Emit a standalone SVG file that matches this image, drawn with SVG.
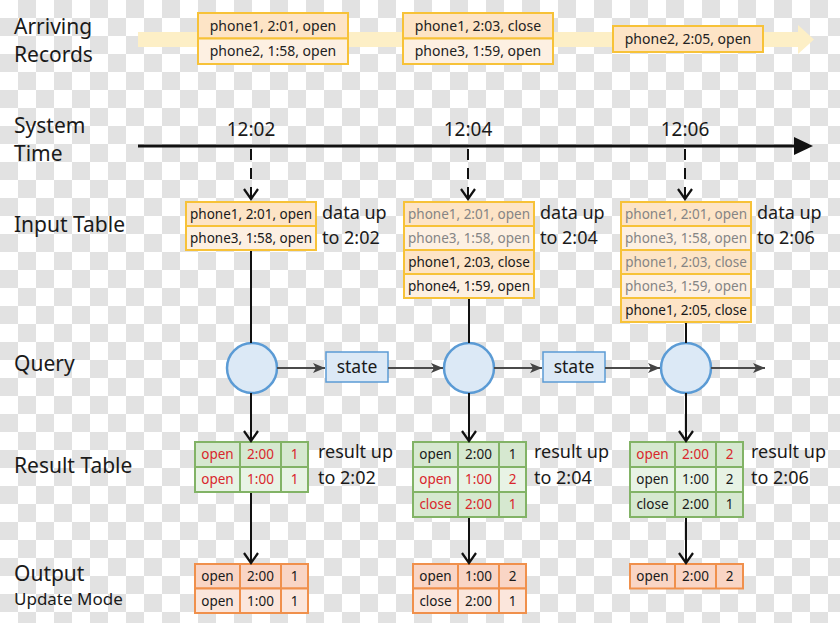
<svg xmlns="http://www.w3.org/2000/svg" width="840" height="623" viewBox="0 0 840 623">
<defs>
<marker id="va" markerUnits="userSpaceOnUse" markerWidth="16" markerHeight="18" refX="13" refY="9" orient="auto">
<path d="M3,2 L13,9 L3,16" fill="none" stroke="#111" stroke-width="2.2"/>
</marker>
<marker id="ga" markerUnits="userSpaceOnUse" markerWidth="14" markerHeight="12" refX="12" refY="6" orient="auto">
<path d="M0,1 L12,6 L0,11 L3,6 z" fill="#444"/>
</marker>
<style>
.ce{stroke:#e2e2e2;stroke-width:18;stroke-dasharray:18,18;stroke-dashoffset:18}
.co{stroke:#e2e2e2;stroke-width:18;stroke-dasharray:18,18;stroke-dashoffset:0}
.lbl{font-family:"Noto Sans","Open Sans",sans-serif;font-size:21px;fill:#1a1a1a}
.sub{font-family:"Noto Sans","Open Sans",sans-serif;font-size:17px;fill:#1a1a1a}
.note{font-family:"Noto Sans","Open Sans",sans-serif;font-size:18px;fill:#1a1a1a}
.time{font-family:"Noto Sans","Open Sans",sans-serif;font-size:19px;fill:#1a1a1a;text-anchor:middle}
.rec{font-family:"Noto Sans","Open Sans",sans-serif;font-size:14px;fill:#222;text-anchor:middle}
.cell{font-family:"Noto Sans","Open Sans",sans-serif;font-size:13.5px;fill:#1a1a1a;text-anchor:middle}
.old{fill:#858585}
.red{fill:#d9262c}
.y1{fill:#fde4c6;stroke:#f7c238;stroke-width:2}
.y2{fill:#fdf0e2;stroke:#f7c238;stroke-width:2}
.g1{fill:#d6e8d0;stroke:#82b366;stroke-width:2}
.g2{fill:#e8f3e5;stroke:#82b366;stroke-width:2}
.o1{fill:#f9d5c5;stroke:#f0904c;stroke-width:2}
.o2{fill:#fbe6dc;stroke:#f0904c;stroke-width:2}
.gl{fill:none;stroke:#82b366;stroke-width:2}
.ol{fill:none;stroke:#f0904c;stroke-width:2}
.circ{fill:#dce9f6;stroke:#5b9bd5;stroke-width:2.5}
.st{fill:#dce9f6;stroke:#5b9bd5;stroke-width:1.5}
.stt{font-family:"Noto Sans","Open Sans",sans-serif;font-size:17.5px;fill:#1a1a1a;text-anchor:middle}
.blk{stroke:#111;stroke-width:2;fill:none}
.dash{stroke:#111;stroke-width:2;fill:none;stroke-dasharray:11,8}
.gray{stroke:#4a4a4a;stroke-width:2;fill:none}
</style>
</defs>
<g id="background">
<rect x="0" y="0" width="840" height="623" fill="#ffffff"/>
<line class="ce" x1="0" y1="9" x2="840" y2="9"/>
<line class="co" x1="0" y1="27" x2="840" y2="27"/>
<line class="ce" x1="0" y1="45" x2="840" y2="45"/>
<line class="co" x1="0" y1="63" x2="840" y2="63"/>
<line class="ce" x1="0" y1="81" x2="840" y2="81"/>
<line class="co" x1="0" y1="99" x2="840" y2="99"/>
<line class="ce" x1="0" y1="117" x2="840" y2="117"/>
<line class="co" x1="0" y1="135" x2="840" y2="135"/>
<line class="ce" x1="0" y1="153" x2="840" y2="153"/>
<line class="co" x1="0" y1="171" x2="840" y2="171"/>
<line class="ce" x1="0" y1="189" x2="840" y2="189"/>
<line class="co" x1="0" y1="207" x2="840" y2="207"/>
<line class="ce" x1="0" y1="225" x2="840" y2="225"/>
<line class="co" x1="0" y1="243" x2="840" y2="243"/>
<line class="ce" x1="0" y1="261" x2="840" y2="261"/>
<line class="co" x1="0" y1="279" x2="840" y2="279"/>
<line class="ce" x1="0" y1="297" x2="840" y2="297"/>
<line class="co" x1="0" y1="315" x2="840" y2="315"/>
<line class="ce" x1="0" y1="333" x2="840" y2="333"/>
<line class="co" x1="0" y1="351" x2="840" y2="351"/>
<line class="ce" x1="0" y1="369" x2="840" y2="369"/>
<line class="co" x1="0" y1="387" x2="840" y2="387"/>
<line class="ce" x1="0" y1="405" x2="840" y2="405"/>
<line class="co" x1="0" y1="423" x2="840" y2="423"/>
<line class="ce" x1="0" y1="441" x2="840" y2="441"/>
<line class="co" x1="0" y1="459" x2="840" y2="459"/>
<line class="ce" x1="0" y1="477" x2="840" y2="477"/>
<line class="co" x1="0" y1="495" x2="840" y2="495"/>
<line class="ce" x1="0" y1="513" x2="840" y2="513"/>
<line class="co" x1="0" y1="531" x2="840" y2="531"/>
<line class="ce" x1="0" y1="549" x2="840" y2="549"/>
<line class="co" x1="0" y1="567" x2="840" y2="567"/>
<line class="ce" x1="0" y1="585" x2="840" y2="585"/>
<line class="co" x1="0" y1="603" x2="840" y2="603"/>
<line class="ce" x1="0" y1="621" x2="840" y2="621"/>
</g>

<g id="row-labels">
<text class="lbl" x="14" y="34">Arriving</text>
<text class="lbl" x="14" y="62">Records</text>
<text class="lbl" x="14" y="133">System</text>
<text class="lbl" x="14" y="161">Time</text>
<text class="lbl" x="14" y="232">Input Table</text>
<text class="lbl" x="14" y="371">Query</text>
<text class="lbl" x="14" y="473">Result Table</text>
<text class="lbl" x="14" y="581">Output</text>
<text class="sub" x="14" y="605">Update Mode</text>
</g>

<g id="arrival-band">
<rect x="138" y="32" width="662" height="15" fill="#fdefc6"/>
<polygon points="798,25 814,39.5 798,54" fill="#fdefc6"/>
</g>

<g id="arrivals-1">
<rect class="y1" x="198" y="13" width="150" height="25.5"/>
<rect class="y2" x="198" y="38.5" width="150" height="25.5"/>
<text class="rec" x="273" y="31">phone1, 2:01, open</text>
<text class="rec" x="273" y="56">phone2, 1:58, open</text>
</g>
<g id="arrivals-2">
<rect class="y1" x="403" y="13" width="150" height="25.5"/>
<rect class="y2" x="403" y="38.5" width="150" height="25.5"/>
<text class="rec" x="478" y="31">phone1, 2:03, close</text>
<text class="rec" x="478" y="56">phone3, 1:59, open</text>
</g>
<g id="arrivals-3">
<rect class="y1" x="613" y="26" width="150" height="26"/>
<text class="rec" x="688" y="44">phone2, 2:05, open</text>
</g>

<g id="timeline">
<line x1="138" y1="146" x2="796" y2="146" stroke="#111" stroke-width="3"/>
<polygon points="794,137 813,146 794,155" fill="#111"/>
<text class="time" x="251" y="136">12:02</text>
<text class="time" x="468" y="136">12:04</text>
<text class="time" x="685" y="136">12:06</text>
</g>

<g id="input-1">
<rect class="y1" x="186" y="202" width="130" height="24"/>
<rect class="y2" x="186" y="226" width="130" height="24"/>
<text class="cell" x="251" y="218.5">phone1, 2:01, open</text>
<text class="cell" x="251" y="242.5">phone3, 1:58, open</text>
<text class="note" x="322" y="219">data up</text>
<text class="note" x="322" y="244">to 2:02</text>
</g>
<g id="input-2">
<rect class="y1" x="404" y="202" width="130" height="24"/>
<rect class="y2" x="404" y="226" width="130" height="24"/>
<rect class="y1" x="404" y="250" width="130" height="24"/>
<rect class="y2" x="404" y="274" width="130" height="24"/>
<text class="cell old" x="469" y="218.5">phone1, 2:01, open</text>
<text class="cell old" x="469" y="242.5">phone3, 1:58, open</text>
<text class="cell" x="469" y="266.5">phone1, 2:03, close</text>
<text class="cell" x="469" y="290.5">phone4, 1:59, open</text>
<text class="note" x="540" y="219">data up</text>
<text class="note" x="540" y="244">to 2:04</text>
</g>
<g id="input-3">
<rect class="y1" x="621" y="202" width="130" height="24"/>
<rect class="y2" x="621" y="226" width="130" height="24"/>
<rect class="y1" x="621" y="250" width="130" height="24"/>
<rect class="y2" x="621" y="274" width="130" height="24"/>
<rect class="y1" x="621" y="298" width="130" height="24"/>
<text class="cell old" x="686" y="218.5">phone1, 2:01, open</text>
<text class="cell old" x="686" y="242.5">phone3, 1:58, open</text>
<text class="cell old" x="686" y="266.5">phone1, 2:03, close</text>
<text class="cell old" x="686" y="290.5">phone3, 1:59, open</text>
<text class="cell" x="686" y="314.5">phone1, 2:05, close</text>
<text class="note" x="757" y="219">data up</text>
<text class="note" x="757" y="244">to 2:06</text>
</g>

<g id="query-1"><circle class="circ" cx="252" cy="368" r="25"/></g>
<g id="query-2"><circle class="circ" cx="469" cy="368" r="25"/></g>
<g id="query-3"><circle class="circ" cx="686" cy="368" r="25"/></g>

<g id="state-1">
<rect class="st" x="326" y="352" width="62" height="30"/>
<text class="stt" x="357" y="373">state</text>
</g>
<g id="state-2">
<rect class="st" x="543" y="352" width="62" height="30"/>
<text class="stt" x="574" y="373">state</text>
</g>

<g id="result-1">
<rect class="g1" x="195" y="442" width="113" height="25"/>
<rect class="g2" x="195" y="467" width="113" height="25"/>
<path class="gl" d="M240,442 V492 M281,442 V492"/>
<text class="cell red" x="217.5" y="459">open</text>
<text class="cell red" x="260.5" y="459">2:00</text>
<text class="cell red" x="294.5" y="459">1</text>
<text class="cell red" x="217.5" y="484">open</text>
<text class="cell red" x="260.5" y="484">1:00</text>
<text class="cell red" x="294.5" y="484">1</text>
<text class="note" x="318" y="458">result up</text>
<text class="note" x="318" y="484">to 2:02</text>
</g>
<g id="result-2">
<rect class="g1" x="413" y="442" width="113" height="25"/>
<rect class="g2" x="413" y="467" width="113" height="25"/>
<rect class="g1" x="413" y="492" width="113" height="25"/>
<path class="gl" d="M458,442 V517 M499,442 V517"/>
<text class="cell" x="435.5" y="459">open</text>
<text class="cell" x="478.5" y="459">2:00</text>
<text class="cell" x="512.5" y="459">1</text>
<text class="cell red" x="435.5" y="484">open</text>
<text class="cell red" x="478.5" y="484">1:00</text>
<text class="cell red" x="512.5" y="484">2</text>
<text class="cell red" x="435.5" y="509">close</text>
<text class="cell red" x="478.5" y="509">2:00</text>
<text class="cell red" x="512.5" y="509">1</text>
<text class="note" x="534" y="458">result up</text>
<text class="note" x="534" y="484">to 2:04</text>
</g>
<g id="result-3">
<rect class="g1" x="630" y="442" width="113" height="25"/>
<rect class="g2" x="630" y="467" width="113" height="25"/>
<rect class="g1" x="630" y="492" width="113" height="25"/>
<path class="gl" d="M675,442 V517 M716,442 V517"/>
<text class="cell red" x="652.5" y="459">open</text>
<text class="cell red" x="695.5" y="459">2:00</text>
<text class="cell red" x="729.5" y="459">2</text>
<text class="cell" x="652.5" y="484">open</text>
<text class="cell" x="695.5" y="484">1:00</text>
<text class="cell" x="729.5" y="484">2</text>
<text class="cell" x="652.5" y="509">close</text>
<text class="cell" x="695.5" y="509">2:00</text>
<text class="cell" x="729.5" y="509">1</text>
<text class="note" x="751" y="458">result up</text>
<text class="note" x="751" y="484">to 2:06</text>
</g>

<g id="output-1">
<rect class="o1" x="195" y="564" width="113" height="24.5"/>
<rect class="o2" x="195" y="588.5" width="113" height="24.5"/>
<path class="ol" d="M240,564 V613 M281,564 V613"/>
<text class="cell" x="217.5" y="581">open</text>
<text class="cell" x="260.5" y="581">2:00</text>
<text class="cell" x="294.5" y="581">1</text>
<text class="cell" x="217.5" y="605.5">open</text>
<text class="cell" x="260.5" y="605.5">1:00</text>
<text class="cell" x="294.5" y="605.5">1</text>
</g>
<g id="output-2">
<rect class="o1" x="413" y="564" width="113" height="24.5"/>
<rect class="o2" x="413" y="588.5" width="113" height="24.5"/>
<path class="ol" d="M458,564 V613 M499,564 V613"/>
<text class="cell" x="435.5" y="581">open</text>
<text class="cell" x="478.5" y="581">1:00</text>
<text class="cell" x="512.5" y="581">2</text>
<text class="cell" x="435.5" y="605.5">close</text>
<text class="cell" x="478.5" y="605.5">2:00</text>
<text class="cell" x="512.5" y="605.5">1</text>
</g>
<g id="output-3">
<rect class="o1" x="630" y="564" width="113" height="24.5"/>
<path class="ol" d="M675,564 V588.5 M716,564 V588.5"/>
<text class="cell" x="652.5" y="581">open</text>
<text class="cell" x="695.5" y="581">2:00</text>
<text class="cell" x="729.5" y="581">2</text>
</g>

<g id="connectors">
<line class="dash" x1="251" y1="149" x2="251" y2="199" marker-end="url(#va)"/>
<line class="dash" x1="468" y1="149" x2="468" y2="199" marker-end="url(#va)"/>
<line class="dash" x1="685" y1="149" x2="685" y2="199" marker-end="url(#va)"/>
<line class="blk" x1="251" y1="251" x2="251" y2="343"/>
<line class="blk" x1="469" y1="299" x2="469" y2="343"/>
<line class="blk" x1="686" y1="323" x2="686" y2="343"/>
<line class="blk" x1="251" y1="393" x2="251" y2="441" marker-end="url(#va)"/>
<line class="blk" x1="469" y1="393" x2="469" y2="441" marker-end="url(#va)"/>
<line class="blk" x1="686" y1="393" x2="686" y2="441" marker-end="url(#va)"/>
<line class="blk" x1="251" y1="493" x2="251" y2="563" marker-end="url(#va)"/>
<line class="blk" x1="469" y1="518" x2="469" y2="563" marker-end="url(#va)"/>
<line class="blk" x1="686" y1="518" x2="686" y2="563" marker-end="url(#va)"/>
<line class="gray" x1="277" y1="368" x2="325" y2="368" marker-end="url(#ga)"/>
<line class="gray" x1="388" y1="368" x2="443" y2="368" marker-end="url(#ga)"/>
<line class="gray" x1="494" y1="368" x2="542" y2="368" marker-end="url(#ga)"/>
<line class="gray" x1="605" y1="368" x2="660" y2="368" marker-end="url(#ga)"/>
<line class="gray" x1="711" y1="368" x2="765" y2="368" marker-end="url(#ga)"/>
</g>
</svg>
